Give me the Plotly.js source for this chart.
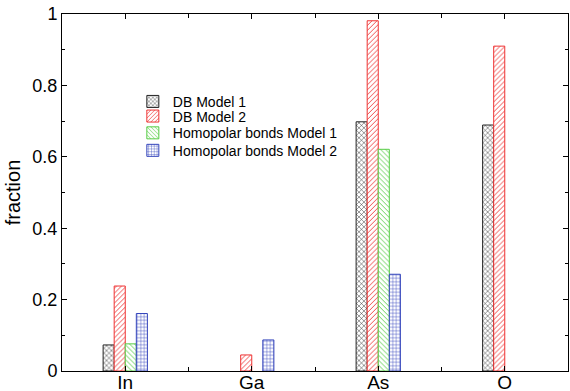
<!DOCTYPE html>
<html>
<head>
<meta charset="utf-8">
<script src="https://cdn.plot.ly/plotly-3.0.1.min.js"></script>
<style>html,body{margin:0;padding:0;background:#fff;}#chart{width:570px;height:391px;}</style>
</head>
<body>
<div id="chart"></div>
<script>
const categories = ["In", "Ga", "As", "O"];
const seriesNames = ["DB Model 1", "DB Model 2", "Homopolar bonds Model 1", "Homopolar bonds Model 2"];
const dbModel1 = [0.073, null, 0.698, 0.689];
const dbModel2 = [0.238, 0.045, 0.981, 0.910];
const homoModel1 = [0.076, null, 0.621, null];
const homoModel2 = [0.161, 0.087, 0.271, null];
const yTickVals = [0, 0.2, 0.4, 0.6, 0.8, 1];
const yTickText = ["0", "0.2", "0.4", "0.6", "0.8", "1"];

const seriesValues = [dbModel1, dbModel2, homoModel1, homoModel2];
const colors = ["#222222", "#ee3333", "#55cc44", "#3344bb"];
const shapes = ["x", "/", "\\", "+"];
const legendIds = ["legend", "legend2", "legend3", "legend4"];
const legendY = [0.754, 0.713, 0.666, 0.617];
const xIdx = categories.map((c, i) => i);

const traces = seriesValues.map((vals, k) => ({
  type: "bar",
  name: seriesNames[k],
  legend: legendIds[k],
  x: xIdx,
  y: vals,
  marker: {
    color: colors[k],
    line: {color: colors[k], width: 1},
    pattern: {shape: shapes[k], fgcolor: colors[k], bgcolor: "white", size: 3.5, solidity: 0.25, fillmode: "replace"}
  }
}));

const layout = {
  width: 570, height: 391,
  margin: {l: 62, r: 2, t: 14, b: 20, pad: 0},
  paper_bgcolor: "white", plot_bgcolor: "white",
  font: {family: "Liberation Sans, Arial, sans-serif", color: "#000", size: 18},
  barmode: "group", bargap: 0.65, bargroupgap: 0,
  showlegend: true,
  xaxis: {
    range: [-0.5, 3.5], tickmode: "array", tickvals: xIdx, ticktext: categories,
    ticks: "inside", ticklen: 5, tickcolor: "#000", showline: true, linecolor: "#000", linewidth: 1,
    mirror: "ticks", showgrid: false, zeroline: false, tickfont: {size: 19}, ticklabelstandoff: -6,
    minor: {dtick: 0.5, tick0: 0.5, ticks: "inside", ticklen: 4, tickcolor: "#000", showgrid: false}
  },
  yaxis: {
    range: [0, 1], tickmode: "array", tickvals: yTickVals, ticktext: yTickText,
    ticks: "inside", ticklen: 5, tickcolor: "#000", showline: true, linecolor: "#000", linewidth: 1,
    mirror: "ticks", showgrid: false, zeroline: false, tickfont: {size: 18},
    title: {text: "fraction", font: {size: 20}, standoff: 6},
    minor: {dtick: 0.1, ticks: "inside", ticklen: 3, tickcolor: "#000", showgrid: false}
  }
};
legendIds.forEach((id, k) => {
  layout[id] = {x: 0.14, y: legendY[k], xanchor: "left", yanchor: "middle", bgcolor: "rgba(0,0,0,0)",
                font: {size: 14}, itemwidth: 30};
});

Plotly.newPlot("chart", traces, layout, {displayModeBar: false, staticPlot: true});
</script>
</body>
</html>
